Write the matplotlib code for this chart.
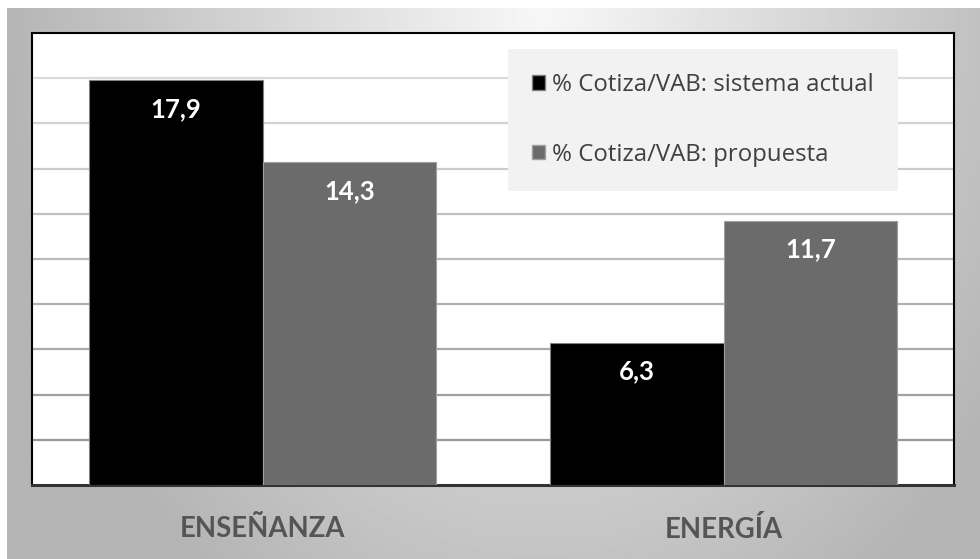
import numpy as np
import matplotlib
matplotlib.use("Agg")
import matplotlib.pyplot as plt
from matplotlib.patches import Patch

# data
categories = ["ENSEÑANZA", "ENERGÍA"]
actual = [17.9, 6.3]
propuesta = [14.3, 11.7]
series_names = ["% Cotiza/VAB: sistema actual", "% Cotiza/VAB: propuesta"]
grid_ticks = [2, 4, 6, 8, 10, 12, 14, 16, 18]

fig = plt.figure(figsize=(9.8, 5.59), dpi=100)

# gray gradient panel behind the chart
bg = fig.add_axes([7 / 980, 0, 1 - 7 / 980, 1 - 8 / 559], zorder=-5)
yy, xx = np.mgrid[0:1:300j, 0:1:500j]
r = np.sqrt(((xx - 0.55) / 0.55) ** 2 + 0.6 * yy ** 2)
img = 0.97 - 0.26 * np.clip(r, 0, 1)
bg.imshow(img, cmap="gray", vmin=0, vmax=1, aspect="auto",
          extent=[0, 1, 1, 0], interpolation="bilinear")
bg.set_axis_off()

ax = fig.add_axes([32 / 980, 74 / 559, 922 / 980, 452 / 559])
ax.set_facecolor("white")

x = np.arange(len(categories))
w = 0.377
b1 = ax.bar(x - w / 2, actual, w, color="black", edgecolor="#808080",
            linewidth=0.8, zorder=3)
b2 = ax.bar(x + w / 2, propuesta, w, color="#6b6b6b", edgecolor="#a0a0a0",
            linewidth=0.8, zorder=3)

# gridlines get darker toward the bottom
for t in grid_ticks:
    g = 0.60 + (0.86 - 0.60) * (t - 2) / 16
    ax.axhline(t, color=(g, g, g), linewidth=1.6, zorder=1)

for bars, vals in ((b1, actual), (b2, propuesta)):
    for rect, v in zip(bars, vals):
        ax.annotate(f"{v:.1f}".replace(".", ","),
                    (rect.get_x() + rect.get_width() / 2, v),
                    xytext=(0, -29), textcoords="offset pixels",
                    ha="center", va="center", color="white",
                    fontsize=18.5, fontweight="bold", family="Lato", zorder=4)

ax.set_xlim(-0.5, 1.5)
ax.set_ylim(0, 20)
ax.set_yticks([])
ax.set_xticks(x)
ax.set_xticklabels(categories, fontsize=19.8, fontweight="bold",
                   family="Lato", color="#555555")
ax.tick_params(axis="x", length=0, pad=22)

for s in ("left", "top", "right"):
    ax.spines[s].set_linewidth(1.5)
    ax.spines[s].set_color("black")
ax.spines["bottom"].set_linewidth(2.2)
ax.spines["bottom"].set_color("#333333")

handles = [Patch(facecolor="black", edgecolor="#808080"),
           Patch(facecolor="#6b6b6b", edgecolor="#a0a0a0")]
leg = ax.legend(handles, series_names, loc="upper left",
                bbox_to_anchor=(0.516, 0.965), borderaxespad=0,
                frameon=True, fancybox=False, facecolor="#f2f2f2",
                edgecolor="none", framealpha=1,
                prop={"family": "Open Sans", "size": 17.3},
                labelcolor="#404040", handlelength=0.55, handleheight=0.55,
                handletextpad=0.3, labelspacing=1.9, borderpad=1.0)
leg.set_zorder(5)

fig.savefig("out.png", dpi=100)
